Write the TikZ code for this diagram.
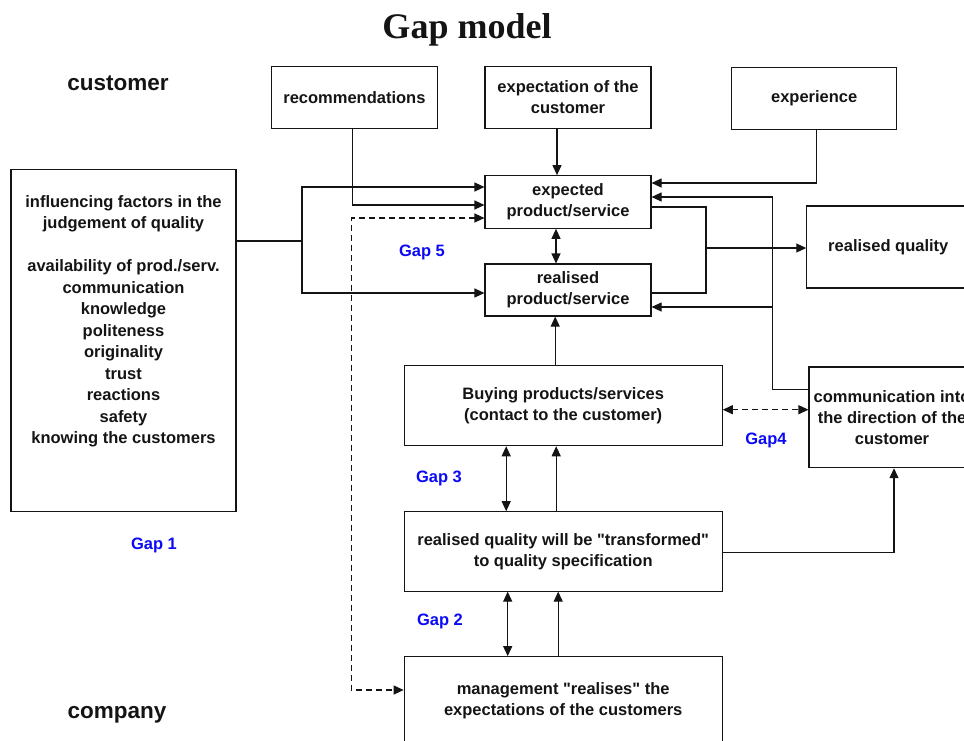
\documentclass[tikz,border=0pt]{standalone}
\usepackage{fontspec}
\setmainfont{Liberation Sans}[Ligatures=TeXOff]
\newfontfamily\titlefont{Liberation Serif}
\usepackage{tikz}
\usetikzlibrary{arrows.meta,positioning,calc}
\definecolor{ink}{HTML}{141414}
\definecolor{gapblue}{HTML}{0A0AF5}
\tikzset{
  gapbox/.style={rectangle,draw=ink,line width=1.1pt,text=ink,align=center,
    font=\fontsize{16.5}{21}\selectfont\bfseries,inner sep=2pt},
  factors/.style={align=center,text=ink,inner sep=0pt,
    font=\fontsize{16.5}{21.5}\selectfont\bfseries},
  sidetext/.style={text=ink,font=\fontsize{22.5}{26}\selectfont\bfseries},
  titletext/.style={text=ink,anchor=base,font=\titlefont\fontsize{36}{40}\selectfont\bfseries},
  gaptext/.style={text=gapblue,font=\fontsize{16.5}{20}\selectfont\bfseries},
  gapline/.style={line width=1.1pt,color=ink},
  gaparr/.style={-{Triangle[length=10pt,width=9pt]},line width=1.1pt,color=ink},
  gapboth/.style={{Triangle[length=10pt,width=9pt]}-{Triangle[length=10pt,width=9pt]},line width=1.1pt,color=ink},
  gapdash/.style={{Triangle[length=10pt,width=9pt]}-{Triangle[length=10pt,width=9pt]},line width=1.1pt,color=ink,
    dash pattern=on 6pt off 4pt},
}

\begin{document}
\begin{tikzpicture}[x=1pt,y=-1pt]
  \useasboundingbox (0,0) rectangle (964,740);
  \node[titletext] (title) at (467,38) {Gap model};
  \node[sidetext] (cust) at (118,83) {customer};
  \node[sidetext] (comp) at (117,715) {company};

  \node[gapbox,minimum width=166pt,minimum height=62pt] (rec) at (354.4,97.5) {recommendations};
  \node[gapbox,minimum width=166pt,minimum height=62pt] (expc) at (568,97.5) {expectation of the\\customer};
  \node[gapbox,minimum width=165pt,minimum height=62pt] (expr) at (814.2,98.3) {experience};
  \node[gapbox,minimum width=166pt,minimum height=52.6pt] (exps) at (568,202) {expected\\product/service};
  \node[gapbox,minimum width=166pt,minimum height=52pt] (reps) at (568,290) {realised\\product/service};
  \node[gapbox,minimum width=163pt,minimum height=82pt] (rq) at (888.3,247) {realised quality};
  \node[gapbox,minimum width=166pt,minimum height=100.7pt] (comm) at (892,417.3) {communication into\\the direction of the\\customer};
  \node[gapbox,minimum width=318pt,minimum height=80pt] (buy) at (563.2,405.7) {Buying products/services\\(contact to the customer)};
  \node[gapbox,minimum width=318pt,minimum height=79.3pt] (trans) at (563.2,551.4) {realised quality will be "transformed"\\to quality specification};
  \node[gapbox,minimum width=318pt,minimum height=88.6pt] (mgmt) at (563.2,701) {management "realises" the\\expectations of the customers};
  \node[gapbox,minimum width=225pt,minimum height=342.4pt] (infl) at (123.5,340.5) {};
  \node[factors] (infltxt) at (123.5,321.5) {influencing factors in the\\judgement of quality\\[21.5pt]availability of prod./serv.\\communication\\knowledge\\politeness\\originality\\trust\\reactions\\safety\\knowing the customers};

  \node[gaptext] (gap5) at (422,252) {Gap 5};
  \node[gaptext] (gap4) at (766,440.7) {Gap4};
  \node[gaptext] (gap3) at (439,478) {Gap 3};
  \node[gaptext] (gap2) at (440,621.7) {Gap 2};
  \node[gaptext] (gap1) at (154,545) {Gap 1};

  \coordinate (jl) at (302,241);
  \coordinate (jc) at (772.3,389.3);
  \coordinate (jr) at (706,248);

  \draw[gapline] (infl.east |- jl) -- (jl);
  \draw[gaparr] (jl) |- ([yshift=15pt]exps.west);
  \draw[gaparr] (jl) |- ([yshift=-3pt]reps.west);
  \draw[gaparr] ([xshift=-1.7pt]rec.south) |- ([yshift=-3pt]exps.west);
  \draw[gapdash] ([yshift=-16pt]exps.west) -- ++(-133,0) |- ([yshift=11pt]mgmt.west);
  \draw[gaparr] ([xshift=-11pt]expc.south) -- ([xshift=-11pt]exps.north);
  \draw[gapboth] ([xshift=-12pt]exps.south) -- ([xshift=-12pt]reps.north);
  \draw[gaparr] ([xshift=2pt]expr.south) |- ([yshift=19pt]exps.east);
  \draw[gapline] ([yshift=28pt]comm.west) -- (jc);
  \draw[gaparr] (jc) |- ([yshift=5pt]exps.east);
  \draw[gaparr] (jc) |- ([yshift=-17pt]reps.east);
  \draw[gapline] ([yshift=-5pt]exps.east) -| (jr);
  \draw[gapline] ([yshift=-3pt]reps.east) -| (jr);
  \draw[gaparr] (jr) -- (rq.west |- jr);
  \draw[gaparr] ([xshift=-8pt]buy.north) -- ([xshift=-8pt]buy.north |- reps.south);
  \draw[gapboth] ([xshift=-57pt]trans.north) -- ([xshift=-57pt]buy.south);
  \draw[gaparr] ([xshift=-7pt]trans.north) -- ([xshift=-7pt]buy.south);
  \draw[gapboth] ([xshift=-55.5pt]mgmt.north) -- ([xshift=-55.5pt]trans.south);
  \draw[gaparr] ([xshift=-5pt]mgmt.north) -- ([xshift=-5pt]trans.south);
  \draw[gapdash] ([yshift=-4pt]buy.east) -- ([yshift=-4pt]buy.east -| comm.west);
  \draw[gaparr] ([yshift=-1pt]trans.east) -| ([xshift=2pt]comm.south);
\end{tikzpicture}
\end{document}
